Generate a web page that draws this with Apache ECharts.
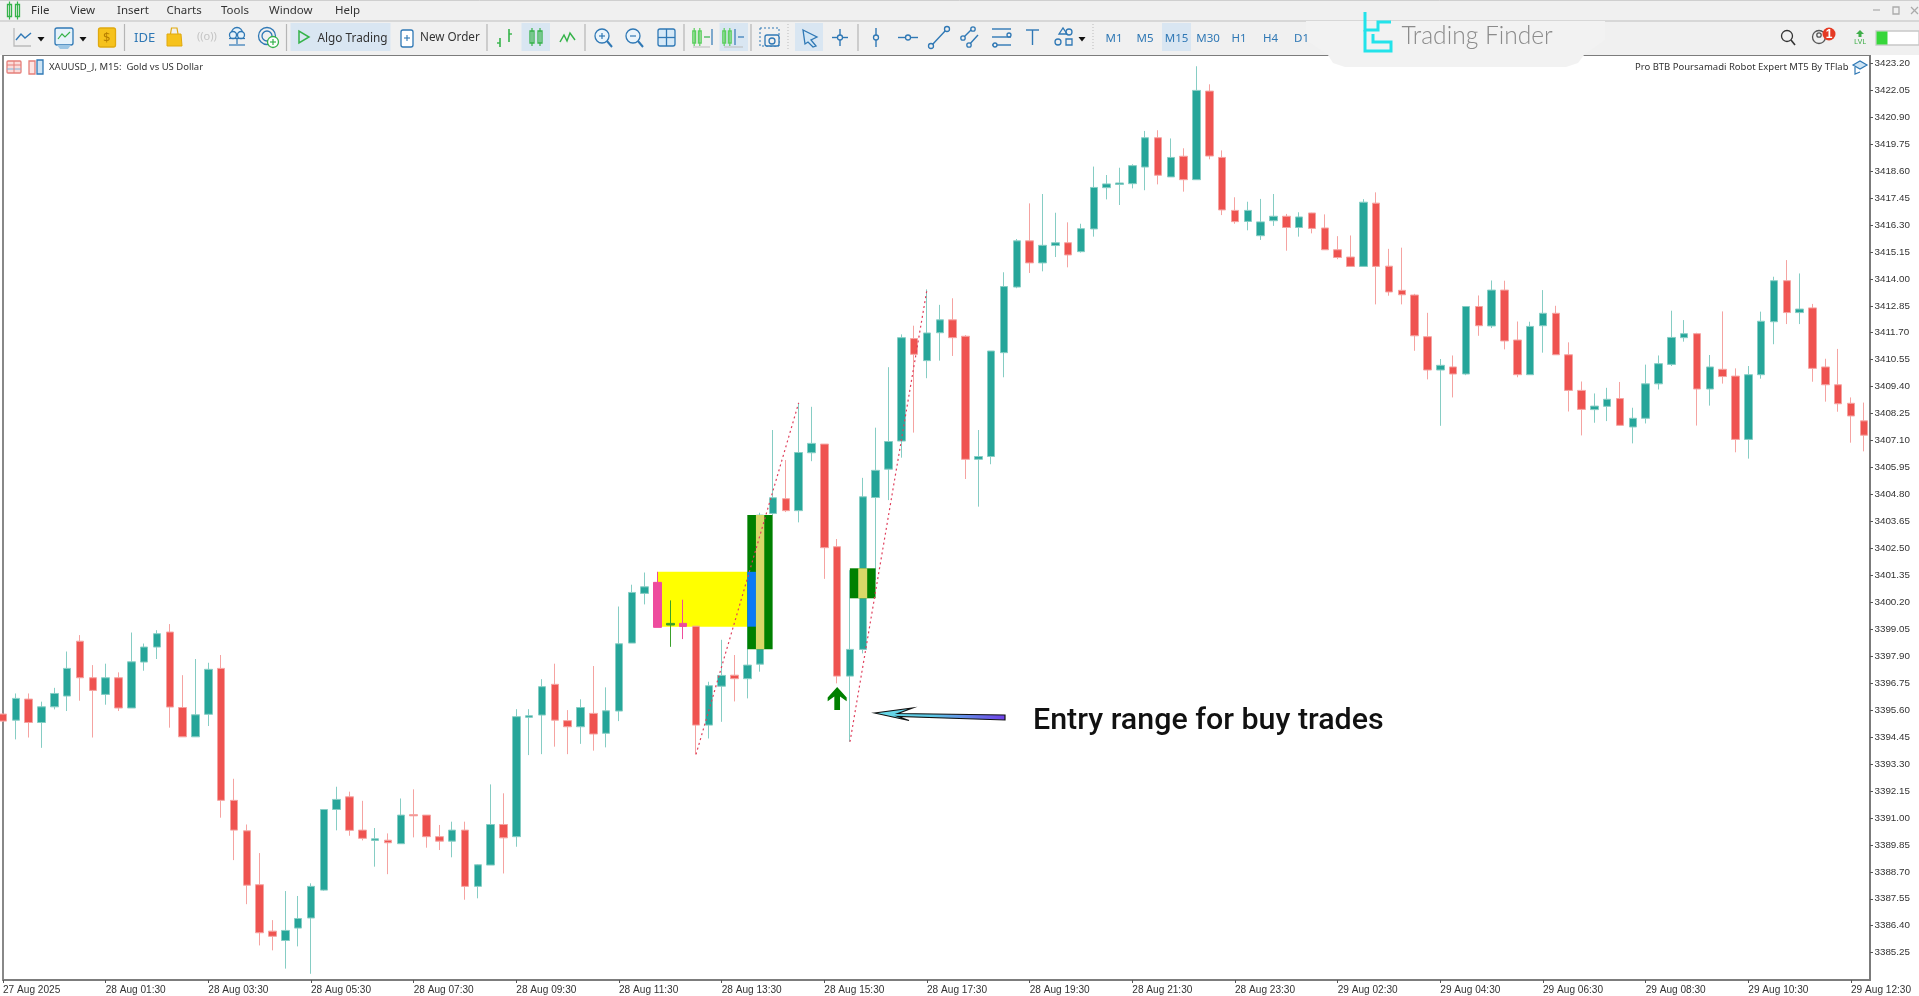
<!DOCTYPE html>
<html>
<head>
<meta charset="utf-8">
<style>html,body{margin:0;padding:0;background:#fff}#chart{width:1919px;height:996px}</style>
<script src="https://cdn.jsdelivr.net/npm/echarts@6/dist/echarts.min.js"></script>
</head>
<body>
<div id="chart"></div>
<script>
// XAUUSD M15 candles (bar number = position in the arrays)
var opens = [
3395.43,3395.17,3396.07,3395.07,3395.74,3396.20,3398.54,3396.98,3396.27,3396.98,
3395.69,3397.65,3398.29,3398.93,3395.71,3394.46,3395.42,3397.38,3391.75,3390.45,
3388.15,3386.17,3385.77,3386.30,3386.73,3387.92,3391.36,3391.90,3390.48,3390.04,
3390.05,3389.90,3391.14,3391.12,3390.20,3390.01,3390.48,3388.08,3388.99,3390.72,
3390.20,3395.29,3395.39,3396.70,3395.15,3394.89,3395.46,3394.61,3395.56,3398.46,
3400.58,3401.05,3399.23,3399.30,3399.18,3394.96,3396.62,3397.09,3396.94,3397.56,
3403.99,3404.62,3404.11,3406.58,3406.95,3402.57,3397.05,3398.19,3404.67,3405.88,
3407.08,3411.45,3410.51,3411.70,3412.25,3411.55,3406.30,3406.42,3410.85,3413.65,
3415.62,3414.68,3415.42,3415.54,3415.16,3416.13,3417.89,3418.03,3418.06,3418.77,
3420.02,3418.35,3419.23,3418.23,3422.01,3419.18,3416.92,3416.45,3415.84,3416.48,
3416.67,3416.19,3416.81,3416.17,3415.24,3414.93,3414.53,3417.23,3414.54,3413.51,
3413.31,3411.53,3410.11,3410.24,3409.94,3412.82,3411.99,3413.52,3411.39,3409.91,
3412.00,3412.53,3410.76,3409.24,3408.42,3408.56,3408.89,3407.68,3408.05,3409.52,
3410.35,3411.49,3411.66,3409.30,3410.14,3409.85,3407.15,3409.91,3412.17,3413.92,
3412.56,3412.76,3410.24,3409.48,3408.69,3407.94];
var closes = [
3395.13,3396.10,3395.07,3395.74,3396.31,3397.38,3396.98,3396.44,3396.98,3395.69,
3397.66,3398.29,3398.86,3395.73,3394.46,3395.40,3397.34,3391.75,3390.48,3388.13,
3386.10,3385.95,3386.20,3386.71,3388.08,3391.36,3391.79,3390.47,3390.13,3390.11,
3389.94,3391.12,3391.09,3390.20,3390.01,3390.48,3388.08,3389.00,3390.72,3390.15,
3395.32,3395.36,3396.60,3395.17,3394.89,3395.71,3394.58,3395.57,3398.43,3400.62,
3400.86,3399.13,3399.30,3399.17,3394.96,3396.64,3397.08,3396.94,3397.52,3403.92,
3404.66,3404.11,3406.59,3406.98,3402.53,3397.05,3398.19,3404.70,3405.83,3407.06,
3411.49,3410.78,3411.69,3412.25,3411.49,3406.30,3406.42,3410.92,3413.67,3415.62,
3414.68,3415.43,3415.54,3415.02,3416.14,3417.90,3418.05,3418.09,3418.83,3420.02,
3418.42,3419.18,3418.23,3422.04,3419.24,3416.94,3416.44,3416.92,3416.43,3416.67,
3416.19,3416.64,3416.15,3415.24,3414.91,3414.53,3417.27,3414.53,3413.44,3413.32,
3411.57,3410.11,3410.31,3409.94,3412.82,3412.00,3413.52,3411.35,3409.91,3411.97,
3412.53,3410.76,3409.24,3408.43,3408.57,3408.86,3407.75,3408.05,3409.52,3410.38,
3411.50,3411.66,3409.30,3410.24,3409.83,3407.15,3409.91,3412.19,3413.92,3412.56,
3412.71,3410.18,3409.48,3408.67,3408.15,3407.33];
var lows = [
3395.10,3394.35,3394.43,3393.99,3395.63,3395.56,3396.00,3394.43,3395.83,3395.56,
3395.69,3397.28,3397.78,3394.85,3394.46,3394.46,3394.92,3391.01,3389.20,3387.32,
3385.56,3385.35,3384.57,3385.52,3384.35,3387.89,3390.47,3390.24,3390.04,3388.92,
3388.60,3389.90,3390.17,3389.73,3389.63,3389.32,3387.51,3387.57,3388.99,3388.63,
3389.77,3393.68,3393.72,3394.04,3393.72,3394.16,3393.87,3394.01,3395.13,3398.46,
3400.11,3399.13,3398.30,3398.63,3393.71,3394.39,3395.10,3395.97,3396.10,3397.24,
3403.92,3404.05,3403.61,3406.22,3401.20,3396.74,3394.25,3398.02,3401.15,3404.56,
3406.37,3407.44,3409.76,3410.51,3410.71,3405.46,3404.28,3406.09,3409.80,3413.60,
3414.25,3414.32,3414.93,3414.49,3415.12,3415.80,3417.39,3417.15,3417.86,3417.78,
3418.03,3418.35,3417.72,3418.23,3419.10,3416.72,3416.35,3416.07,3415.66,3416.26,
3415.20,3415.80,3415.94,3415.23,3414.84,3414.52,3414.53,3412.91,3413.28,3412.91,
3410.93,3409.71,3407.73,3408.94,3409.89,3411.57,3411.90,3410.99,3409.80,3409.91,
3410.85,3410.76,3408.34,3407.32,3407.86,3407.93,3407.73,3406.98,3407.83,3409.28,
3410.28,3411.32,3407.74,3408.59,3409.53,3406.60,3406.33,3409.74,3411.21,3412.07,
3412.07,3409.61,3408.76,3408.33,3407.01,3406.64];
var highs = [
3395.46,3396.31,3396.31,3395.96,3396.55,3398.10,3398.80,3397.52,3397.58,3397.21,
3398.91,3398.44,3399.01,3399.27,3397.09,3397.78,3397.62,3397.95,3392.67,3390.72,
3389.50,3386.64,3387.88,3387.67,3388.21,3391.38,3392.33,3392.12,3391.73,3390.57,
3390.34,3391.83,3392.22,3391.12,3390.70,3390.84,3390.84,3389.02,3392.43,3392.05,
3395.64,3395.64,3396.92,3397.58,3395.60,3396.06,3397.48,3396.57,3400.02,3400.95,
3401.47,3401.50,3400.28,3400.31,3399.18,3396.81,3398.60,3397.95,3401.15,3404.02,
3407.55,3406.27,3408.71,3408.54,3406.95,3402.90,3401.57,3405.51,3407.65,3410.23,
3411.63,3412.00,3413.55,3412.89,3413.17,3411.60,3407.55,3410.92,3414.28,3415.70,
3417.22,3417.62,3416.82,3416.41,3416.35,3418.79,3418.43,3418.74,3418.89,3420.31,
3420.34,3419.99,3419.57,3423.07,3422.30,3419.48,3417.48,3417.29,3417.41,3417.62,
3416.77,3416.84,3416.82,3416.75,3415.82,3415.85,3417.40,3417.69,3415.28,3415.33,
3413.36,3412.55,3410.58,3410.73,3412.82,3413.29,3413.93,3413.92,3412.18,3412.17,
3413.52,3412.85,3411.29,3409.62,3409.11,3409.35,3409.60,3408.50,3410.34,3410.73,
3412.64,3412.24,3411.70,3410.75,3412.61,3410.18,3410.28,3412.60,3414.09,3414.80,
3414.23,3412.93,3410.59,3411.01,3408.94,3408.72];

var priceTicks = [3385.25,3386.40,3387.55,3388.70,3389.85,3391.00,3392.15,3393.30,3394.45,3395.60,
3396.75,3397.90,3399.05,3400.20,3401.35,3402.50,3403.65,3404.80,3405.95,3407.10,3408.25,3409.40,
3410.55,3411.70,3412.85,3414.00,3415.15,3416.30,3417.45,3418.60,3419.75,3420.90,3422.05,3423.20];
var timeLabels = ['27 Aug 2025','28 Aug 01:30','28 Aug 03:30','28 Aug 05:30','28 Aug 07:30','28 Aug 09:30',
'28 Aug 11:30','28 Aug 13:30','28 Aug 15:30','28 Aug 17:30','28 Aug 19:30','28 Aug 21:30','28 Aug 23:30',
'29 Aug 02:30','29 Aug 04:30','29 Aug 06:30','29 Aug 08:30','29 Aug 10:30','29 Aug 12:30'];
var barsPerLabel = 8;

// indicator zones: [first bar, last bar, upper price, lower price]
var yellowZone = [[51, 58, 3401.50, 3399.16]];
var darkBoxes = [[58, 59.97, 3403.92, 3398.20], [65.99, 67.99, 3401.65, 3400.37]];
var blueStrip = [[58, 58.67, 3401.50, 3399.16]];
var khakiBars = [[58.67, 59.32, 3403.92, 3398.20], [66.64, 67.34, 3401.65, 3400.37]];
var legA = [[54, 3393.71], [62, 3408.71]];
var legB = [[66, 3394.25], [72, 3413.55]];
var buyArrow = [[65, 3396.10]];
var recolored = {51: '#ee4c9e', 52: '#3aa02c', 53: '#ee4c9e'};

var UP = '#26a69a', DOWN = '#ef5350', UP_WICK = '#86cdc4', DOWN_WICK = '#f5a3a1';
var UI = '"Noto Sans", sans-serif', BLUE = '#2f78b5';

var candleData = opens.map(function (o, i) {
    var d = {value: [i, o, closes[i], lows[i], highs[i]]};
    if (recolored[i]) d.itemStyle = {color: recolored[i], color0: recolored[i], borderColor: recolored[i], borderColor0: recolored[i]};
    return d;
});

function zoneSeries(name, data, color, z) {
    return {
        name: name, type: 'custom', data: data, z: z, silent: true, clip: true,
        encode: {x: [0, 1], y: [2, 3]},
        renderItem: function (params, api) {
            var a = api.coord([api.value(0), api.value(2)]);
            var b = api.coord([api.value(1), api.value(3)]);
            return {type: 'rect', shape: {x: a[0], y: a[1], width: b[0] - a[0], height: b[1] - a[1]}, style: {fill: color}};
        }
    };
}
function legSeries(name, data) {
    return {name: name, type: 'line', data: data, z: 8, symbol: 'none', silent: true,
        lineStyle: {color: '#df3f5c', width: 1.2, type: [2, 3]}};
}

// window chrome around the chart, plain graphic elements
var g = [];
function rc(x, y, w, h, fill, stroke, r) { g.push({type: 'rect', z: 100, shape: {x: x, y: y, width: w, height: h, r: r || 0}, style: {fill: fill || 'none', stroke: stroke || 'none', lineWidth: 1.3}}); }
function ln(x1, y1, x2, y2, color, w) { g.push({type: 'line', z: 100, shape: {x1: x1, y1: y1, x2: x2, y2: y2}, style: {stroke: color || BLUE, lineWidth: w || 1.4}}); }
function circ(x, y, r, fill, stroke) { g.push({type: 'circle', z: 100, shape: {cx: x, cy: y, r: r}, style: {fill: fill || 'none', stroke: stroke || 'none', lineWidth: 1.3}}); }
function poly(pts, fill, stroke, w) { g.push({type: 'polygon', z: 100, shape: {points: pts}, style: {fill: fill || 'none', stroke: stroke || 'none', lineWidth: w || 1}}); }
function pl(pts, color, w) { g.push({type: 'polyline', z: 100, shape: {points: pts}, style: {fill: 'none', stroke: color || BLUE, lineWidth: w || 1.4}}); }
function txt(x, y, s, size, color, extra) { g.push({type: 'text', z: 101, x: x, y: y, style: Object.assign({text: s, font: size + 'px ' + UI, fill: color || '#333', textVerticalAlign: 'middle'}, extra || {})}); }
function candles(x, y, color, s) {
    s = s || 1;
    rc(x - 6 * s, y - 6, 4 * s, 12, 'none', color); ln(x - 4 * s, y - 9, x - 4 * s, y + 9, color, 1.2);
    rc(x + 2 * s, y - 6, 4 * s, 12, 'none', color); ln(x + 4 * s, y - 9, x + 4 * s, y + 9, color, 1.2);
}
function drop(x, y) { poly([[x - 3.5, y - 2], [x + 3.5, y - 2], [x, y + 2.5]], '#111'); }

rc(0, 0, 1919, 55, '#f0f0f0');
ln(0, 0.5, 1919, 0.5, '#cfcfcf', 1);
ln(0, 21, 1919, 21, '#bdbdbd', 1.2);
candles(13.5, 10.5, '#35b34a');
[['File', 31], ['View', 70], ['Insert', 117], ['Charts', 166.5], ['Tools', 221], ['Window', 269], ['Help', 335]].forEach(function (m) { txt(m[1], 11, m[0], 11.5, '#333'); });
// highlighted toolbar buttons
[[290.5, 100], [521.5, 28.5], [719.5, 28.5], [795, 28], [1162, 29]].forEach(function (b) { rc(b[0], 23, b[1], 28, '#d9e6f2'); });
[124.5, 286.5, 487, 585, 684, 751, 858].forEach(function (x) { ln(x, 24, x, 51, '#b5b5b5', 1.2); });
[788, 1093].forEach(function (x) { g.push({type: 'line', z: 100, shape: {x1: x, y1: 24, x2: x, y2: 51}, style: {stroke: '#bbb', lineWidth: 1, lineDash: [1, 2]}}); });
// chart type, market
pl([[14, 28], [14, 46], [31, 46]], '#bbb', 1.3); pl([[16, 40], [21, 34], [25, 38], [31, 33]], BLUE, 1.4); drop(41, 39);
rc(55, 28, 18, 17, '#e6f2fa', BLUE, 2); pl([[58, 39], [62, 34], [65, 37], [70, 32]], '#35b34a', 1.2); poly([[57, 45], [71, 45], [68, 49], [60, 49]], '#9cc6e4'); drop(83, 39);
rc(98.5, 28, 17, 19, '#f6c21c', '#e0a90f', 2); txt(103, 38, '$', 13, '#b77f00');
txt(134, 38, 'IDE', 13, BLUE);
poly([[167, 34], [181, 34], [182, 46], [167, 46]], '#f6c21c', '#e0a90f'); pl([[170.5, 34], [171.5, 28], [177, 28], [178, 34]], '#e0a90f', 1.2);
txt(197, 37, '((o))', 11, '#c4c4c4');
circ(237, 33, 5.5, '#e6f2fa', BLUE); circ(233, 35, 3.5, '#e6f2fa', BLUE); circ(241, 35, 3.5, '#e6f2fa', BLUE); ln(229, 38.5, 245, 38.5, BLUE, 1.2); ln(237, 38.5, 237, 44, BLUE, 1.2); ln(229, 45, 245, 45, BLUE, 1.2);
circ(267, 36, 8.5, 'none', BLUE); circ(267, 36, 5, 'none', BLUE); circ(273, 42, 5.5, '#ffffff', '#35b34a'); ln(270, 42, 276, 42, '#35b34a', 1.2); ln(273, 39, 273, 45, '#35b34a', 1.2);
// algo trading, new order
poly([[299, 31], [299, 43], [309, 37]], 'none', '#35b34a', 1.5);
txt(317.5, 39, 'Algo Trading', 11.8, '#333');
rc(401, 30, 12, 17, '#fff', BLUE, 2); ln(404, 38, 410, 38, BLUE, 1.1); ln(407, 35, 407, 41, BLUE, 1.1);
txt(420, 38, 'New Order', 11.7, '#333');
// bar, candle, line
ln(500, 38, 500, 47, '#35b34a', 1.6); ln(497, 43, 500, 43, '#35b34a', 1.4); ln(509, 29, 509, 42, '#35b34a', 1.6); ln(509, 34, 512, 34, '#35b34a', 1.4);
candles(536, 37, '#35b34a');
pl([[560, 42], [564, 35], [567, 41], [570, 33], [575, 40]], '#35b34a', 1.5);
// zoom, grid
circ(602, 36, 7, '#eaf4fb', BLUE); ln(607, 41, 612, 47, BLUE, 2); ln(599, 36, 605, 36, BLUE, 1.2); ln(602, 33, 602, 39, BLUE, 1.2);
circ(633, 36, 7, '#eaf4fb', BLUE); ln(638, 41, 643, 47, BLUE, 2); ln(630, 36, 636, 36, BLUE, 1.2);
rc(658, 29, 17, 17, '#d6e9f7', BLUE, 2); ln(666.5, 29, 666.5, 46, BLUE, 1.3); ln(658, 37.5, 675, 37.5, BLUE, 1.3);
candles(697, 37, '#5cd05f', 0.7); ln(712, 29, 712, 45, BLUE, 1.2); ln(704, 37, 710, 37, '#35b34a', 1.2); ln(693, 47, 710, 47, '#bbb', 1);
candles(727, 37, '#5cd05f', 0.7); ln(735, 29, 735, 45, BLUE, 1.2); ln(738, 37, 744, 37, BLUE, 1.2); ln(724, 47, 743, 47, '#bbb', 1);
// screenshot, cursor, cross
g.push({type: 'rect', z: 100, shape: {x: 760, y: 28, width: 19, height: 18}, style: {fill: 'none', stroke: BLUE, lineWidth: 1, lineDash: [2, 2]}});
rc(765, 35, 14, 11, '#f0f0f0', BLUE, 2); circ(772, 41, 3, 'none', BLUE);
poly([[803, 30], [817, 37], [811, 40], [816, 46], [813, 47], [808, 42], [805, 44]], '#d2e6f5', BLUE, 1.3);
ln(840, 29, 840, 46, BLUE); ln(832, 37.5, 848, 37.5, BLUE); circ(840, 37.5, 2.5, '#f0f0f0', BLUE);
// line studies
ln(876, 28, 876, 47, BLUE); circ(876, 37.5, 2.5, '#f0f0f0', BLUE);
ln(898, 37.5, 918, 37.5, BLUE); circ(908, 37.5, 2.5, '#f0f0f0', BLUE);
ln(932, 45, 946, 30, BLUE); circ(931, 46, 2.5, '#f0f0f0', BLUE); circ(947, 29, 2.5, '#f0f0f0', BLUE);
ln(964, 37, 972, 29, BLUE); ln(968, 46, 978, 35, BLUE); circ(963, 38, 2.2, '#f0f0f0', BLUE); circ(973, 29, 2.2, '#f0f0f0', BLUE); circ(969, 45, 2.2, '#f0f0f0', BLUE);
[29, 37, 45].forEach(function (y) { ln(992, y, 1011, y, BLUE); }); circ(1009, 35, 2, '#f0f0f0', BLUE); circ(995, 45, 2, '#f0f0f0', BLUE);
ln(1026, 30, 1039, 30, BLUE); ln(1032.5, 30, 1032.5, 45, BLUE);
poly([[1059, 34], [1063, 28], [1067, 34]], 'none', BLUE, 1.3); circ(1069, 32, 3, 'none', BLUE); circ(1058, 42, 3, 'none', BLUE); rc(1066, 39, 6, 6, 'none', BLUE); drop(1082, 39);
// timeframes
[['M1', 1114], ['M5', 1145], ['M15', 1176.5], ['M30', 1208], ['H1', 1239], ['H4', 1270.5], ['D1', 1301.5]].forEach(function (t) {
    txt(t[1], 39, t[0], 11.5, BLUE, {textAlign: 'center'});
});
// right corner
ln(1873, 10, 1880, 10, '#aaa', 1.2); rc(1893, 7, 6, 7, 'none', '#aaa'); ln(1911, 7, 1918, 14, '#aaa', 1.2); ln(1918, 7, 1911, 14, '#aaa', 1.2);
circ(1787, 36, 5.5, 'none', '#333'); ln(1791, 40, 1795, 45, '#333', 1.6);
circ(1819, 37, 6.5, 'none', '#555'); circ(1819, 35, 2.2, 'none', '#555');
circ(1829, 34, 6.5, '#e53a24'); txt(1829, 34.5, '1', 10.5, '#fff', {textAlign: 'center', fontWeight: 'bold'});
poly([[1860, 30], [1864, 34], [1861.5, 34], [1861.5, 37], [1858.5, 37], [1858.5, 34], [1856, 34]], '#3fae49');
txt(1860, 42, 'LVL', 7.5, '#3fae49', {textAlign: 'center'});
rc(1876, 31, 43, 14, '#fff', '#c8c8c8'); rc(1876.5, 31.5, 11, 13, '#36d63a');
// logo tab
poly([[1306, 21], [1605, 21], [1605, 40], [1584, 55], [1578, 63], [1566, 67], [1345, 67], [1333, 63], [1328, 55], [1306, 40]], '#f2f2f2');
pl([[1365, 12], [1365, 30], [1378, 30], [1378, 22], [1391, 22]], '#23e3ea', 3);
pl([[1365, 30], [1365, 51], [1391, 51], [1391, 42], [1373, 42], [1373, 34]], '#23e3ea', 3);
txt(1401.5, 36, 'Trading Finder', 24.6, '#8b8b8b', {font: '300 24.6px Lato, ' + UI});
// chart labels
rc(7, 61, 14, 12, '#fbdcda', '#e57f7a', 1); ln(7, 65, 21, 65, '#e57f7a', 1); ln(7, 69, 21, 69, '#7db4dd', 1); ln(14, 61, 14, 73, '#e57f7a', 1);
rc(29, 61, 6, 13, '#fde5e3', '#e57f7a', 0); rc(37, 60, 6, 14, '#cfe5f5', BLUE, 0);
txt(49, 67, 'XAUUSD_J, M15:  Gold vs US Dollar', 9.5, '#333');
txt(1848.5, 67, 'Pro BTB Poursamadi Robot Expert MT5 By TFlab', 9.5, '#333', {textAlign: 'right'});
poly([[1853, 65], [1860, 61], [1867, 65], [1860, 69]], '#cfe5f5', BLUE, 1.2); pl([[1855, 67], [1855, 74], [1860, 72]], BLUE, 1.2);
// callout
poly([[874.5, 713], [912.5, 708], [898, 713.5], [1005, 715], [1005, 720], [898, 716.5], [909, 720.5]], {
    type: 'linear', x: 0, y: 0, x2: 1, y2: 0,
    colorStops: [{offset: 0, color: '#6adbe8'}, {offset: 0.45, color: '#5cc8e6'}, {offset: 1, color: '#6f3ee8'}]
}, '#111', 1.2);
g.push({type: 'text', z: 101, x: 1033, y: 721, style: {text: 'Entry range for buy trades', font: '500 30.4px Roboto', fill: '#111', textVerticalAlign: 'middle'}});

var option = {
    animation: false,
    backgroundColor: '#fff',
    grid: {left: 2, right: 49, top: 55, bottom: 16, show: true, borderColor: '#7c7c7c', borderWidth: 1.8, backgroundColor: '#fff'},
    xAxis: {
        type: 'value', min: 0, max: 145.48, splitLine: {show: false},
        axisLine: {show: false, onZero: false},
        axisTick: {length: 3, lineStyle: {color: '#555'}, customValues: timeLabels.map(function (t, k) { return k * barsPerLabel; })},
        axisLabel: {
            customValues: timeLabels.map(function (t, k) { return k * barsPerLabel; }),
            formatter: function (v) { return timeLabels[v / barsPerLabel] || ''; },
            align: 'left', margin: 5, fontFamily: '"Liberation Sans"', fontSize: 10.1, color: '#333'
        }
    },
    yAxis: {
        type: 'value', position: 'right', min: 3384.085, max: 3423.55, splitLine: {show: false},
        axisLine: {show: true, onZero: false, lineStyle: {color: '#777', width: 1.5}},
        axisTick: {show: true, length: 3, lineStyle: {color: '#555'}, customValues: priceTicks},
        axisLabel: {
            customValues: priceTicks,
            formatter: function (v) { return v.toFixed(2); },
            margin: 4.5, padding: [2, 0, 0, 0], fontFamily: '"Liberation Sans"', fontSize: 9.8, color: '#333'
        }
    },
    series: [
        zoneSeries('yellow zone', yellowZone, '#ffff00', 1),
        {
            name: 'XAUUSD_J', type: 'candlestick', data: candleData, z: 3, barWidth: 8,
            itemStyle: {color: UP, color0: DOWN, borderColor: UP_WICK, borderColor0: DOWN_WICK, borderWidth: 1}
        },
        zoneSeries('box', darkBoxes, '#008000', 4),
        zoneSeries('blue strip', blueStrip, '#0a7af5', 5),
        zoneSeries('box body', khakiBars, '#d8d868', 5),
        legSeries('leg A', legA),
        legSeries('leg B', legB),
        {name: 'buy', type: 'scatter', data: buyArrow, z: 9, symbolSize: [19, 23], itemStyle: {color: '#008000', opacity: 1},
            symbol: 'path://M10 0 L20 11 L20 15 L13 10 L13 24 L7 24 L7 10 L0 15 L0 11 Z'}
    ],
    graphic: {elements: g}
};

var myChart = echarts.init(document.getElementById('chart'));
myChart.setOption(option);
</script>
</body>
</html>
